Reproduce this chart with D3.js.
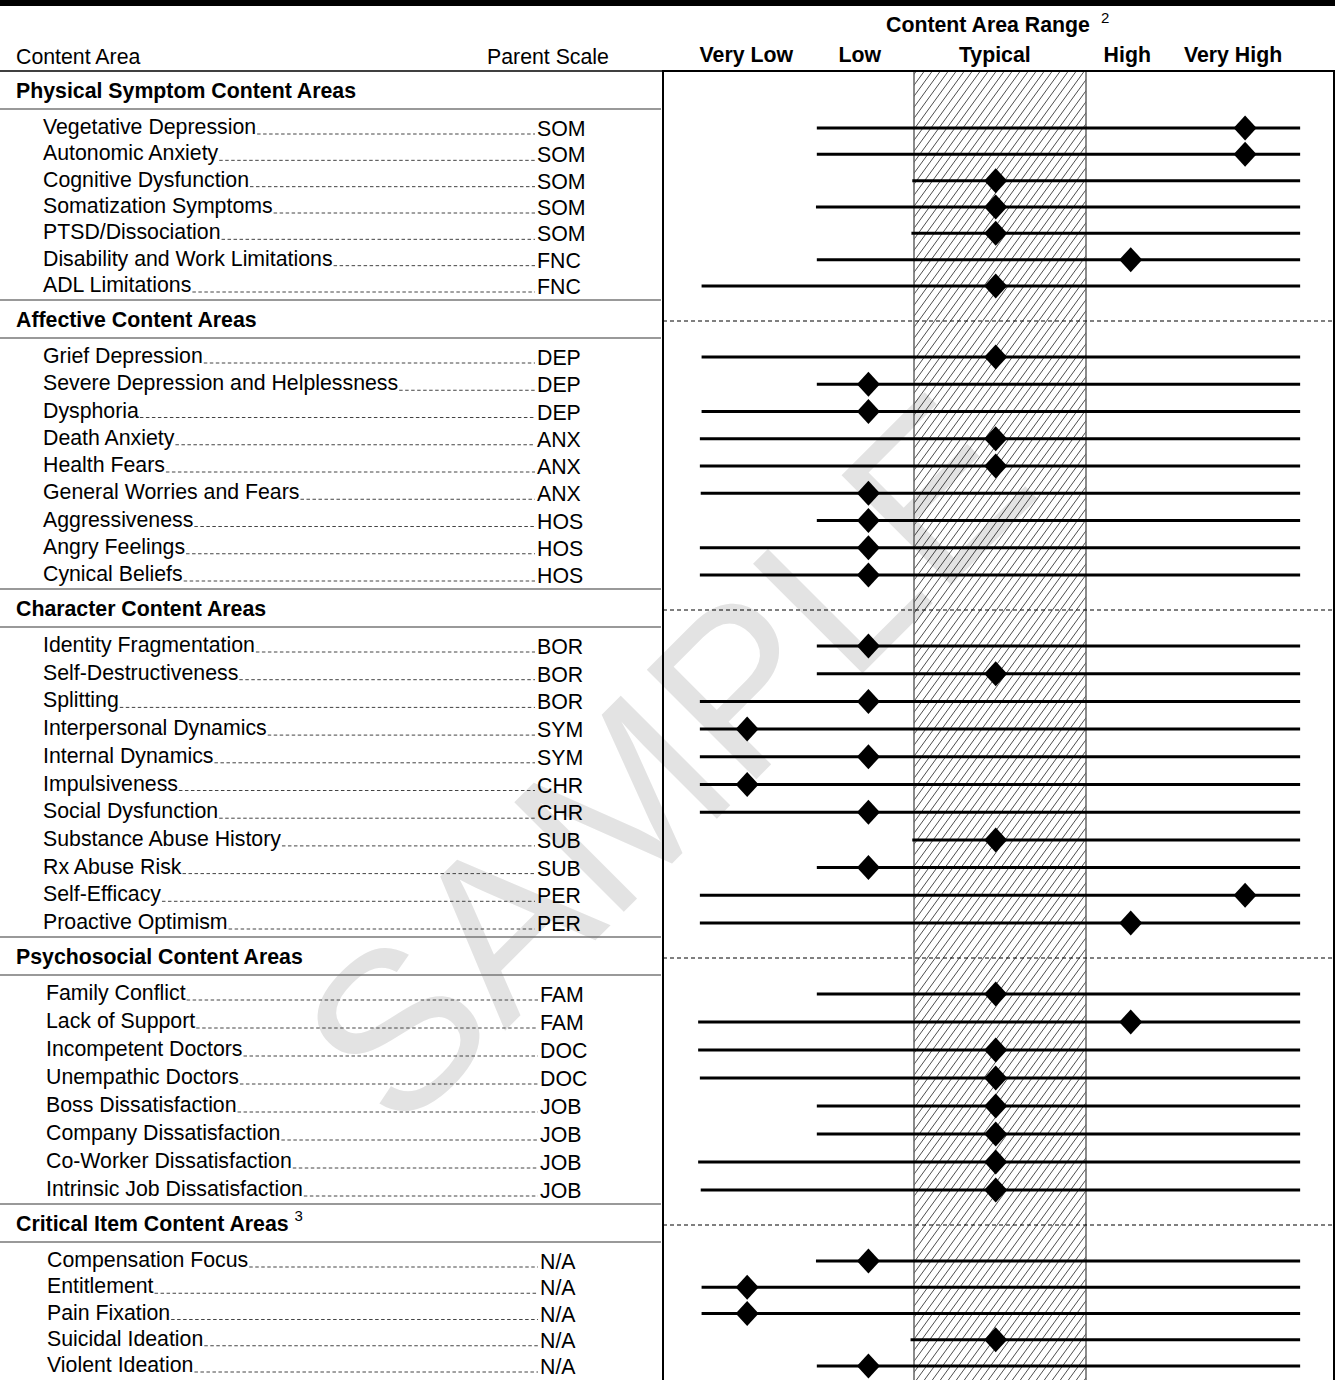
<!DOCTYPE html>
<html>
<head>
<meta charset="utf-8">
<script src="https://cdnjs.cloudflare.com/ajax/libs/d3/7.8.5/d3.min.js"></script>
<style>
  body { margin: 0; background: #fff; }
  svg { display: block; font-family: "Liberation Sans", Arial, Helvetica, sans-serif; }
</style>
</head>
<body>
<div id="chart"></div>
<script>
// ---- data ----
var sections = ["Physical Symptom Content Areas", "Affective Content Areas", "Character Content Areas",
                "Psychosocial Content Areas", "Critical Item Content Areas"];
var sectionSizes = [7, 9, 11, 8, 5];

var areas = [
  "Vegetative Depression", "Autonomic Anxiety", "Cognitive Dysfunction", "Somatization Symptoms",
  "PTSD/Dissociation", "Disability and Work Limitations", "ADL Limitations",
  "Grief Depression", "Severe Depression and Helplessness", "Dysphoria", "Death Anxiety", "Health Fears",
  "General Worries and Fears", "Aggressiveness", "Angry Feelings", "Cynical Beliefs",
  "Identity Fragmentation", "Self-Destructiveness", "Splitting", "Interpersonal Dynamics", "Internal Dynamics",
  "Impulsiveness", "Social Dysfunction", "Substance Abuse History", "Rx Abuse Risk", "Self-Efficacy",
  "Proactive Optimism",
  "Family Conflict", "Lack of Support", "Incompetent Doctors", "Unempathic Doctors", "Boss Dissatisfaction",
  "Company Dissatisfaction", "Co-Worker Dissatisfaction", "Intrinsic Job Dissatisfaction",
  "Compensation Focus", "Entitlement", "Pain Fixation", "Suicidal Ideation", "Violent Ideation"
];
var parents = [
  "SOM", "SOM", "SOM", "SOM", "SOM", "FNC", "FNC",
  "DEP", "DEP", "DEP", "ANX", "ANX", "ANX", "HOS", "HOS", "HOS",
  "BOR", "BOR", "BOR", "SYM", "SYM", "CHR", "CHR", "SUB", "SUB", "PER", "PER",
  "FAM", "FAM", "DOC", "DOC", "JOB", "JOB", "JOB", "JOB",
  "N/A", "N/A", "N/A", "N/A", "N/A"
];
// lowest reachable T-score of each content area (left end of its line)
var floors = [
  28.7, 28.7, 39.8, 28.6, 39.7, 28.7, 15.3,
  15.3, 28.7, 15.3, 15.1, 15.1, 15.2, 28.7, 15.1, 15.1,
  28.7, 28.7, 15.1, 15.1, 15.1, 15.1, 15.1, 39.8, 28.7, 15.1, 15.1,
  28.7, 14.9, 14.9, 15.1, 28.7, 28.7, 14.9, 15.2,
  28.6, 15.3, 15.3, 39.6, 28.7
];
// score (T) of each content area
var scores = [
  78.5, 78.5, 49.5, 49.5, 49.5, 65.2, 49.5,
  49.5, 34.7, 34.7, 49.5, 49.5, 34.7, 34.7, 34.7, 34.7,
  34.7, 49.5, 34.7, 20.6, 34.7, 20.6, 34.7, 49.5, 34.7, 78.5, 65.2,
  49.5, 65.2, 49.5, 49.5, 49.5, 49.5, 49.5, 49.5,
  34.7, 20.6, 20.6, 49.5, 34.7
];
var ceiling = 84.9;
var rangeLabels = ["Very Low", "Low", "Typical", "High", "Very High"];
var rangeLabelT = [20.5, 33.7, 49.4, 64.8, 77.1];
var typicalBand = [40, 60];

// ---- layout ----
var W = 1335, H = 1380;
var FS = 21.3;
var headerY = [91, 320, 609, 957, 1224];
var indentX = [43, 43, 43, 46, 47];
var codeX = [537, 537, 537, 540, 540];
var plotLeft = 663, plotRight = 1334, plotTop = 71;

var svg = d3.select("#chart").append("svg")
    .attr("width", W)
    .attr("height", H);

svg.append("rect").attr("width", W).attr("height", H).attr("fill", "#fff");

var x = d3.scaleLinear().domain(typicalBand).range([914, 1086]);

// rows with their section and y
var rows = [];
var k = 0;
sections.forEach(function(s, si) {
  var first = headerY[si] + 37;
  var last = si < sections.length - 1 ? headerY[si + 1] - 34 : 1366;
  var idx = d3.range(sectionSizes[si]);
  var y = d3.scalePoint().domain(idx).range([first, last]);
  idx.forEach(function(j) {
    rows.push({name: areas[k], parent: parents[k], lo: floors[k], score: scores[k], sec: si, y: y(j)});
    k++;
  });
});

// watermark
svg.append("text")
    .attr("transform", "translate(664,757) rotate(-45)")
    .attr("text-anchor", "middle")
    .attr("dy", "0.36em")
    .attr("font-size", 225)
    .attr("fill", "#e3e3e3")
    .text("SAMPLE");

// hatch pattern for the typical range
var defs = svg.append("defs");
var pat = defs.append("pattern")
    .attr("id", "hatch")
    .attr("patternUnits", "userSpaceOnUse")
    .attr("width", 8).attr("height", 11);
pat.append("path")
    .attr("d", "M0,11 L8,0 M-2,2.75 L2,-2.75 M6,13.75 L10,8.25")
    .attr("stroke", "#000")
    .attr("stroke-width", 0.7);

svg.append("rect")
    .attr("x", x(typicalBand[0]))
    .attr("y", plotTop)
    .attr("width", x(typicalBand[1]) - x(typicalBand[0]))
    .attr("height", H - plotTop + 5)
    .attr("fill", "url(#hatch)")
    .attr("stroke", "#666")
    .attr("stroke-width", 1.5);

// dashed separators in the plot
svg.selectAll(".sep")
    .data(headerY.slice(1))
  .enter().append("line")
    .attr("x1", plotLeft).attr("x2", W)
    .attr("y1", function(d) { return d + 1; })
    .attr("y2", function(d) { return d + 1; })
    .attr("stroke", "#000")
    .attr("stroke-width", 1)
    .attr("stroke-dasharray", "4,3");

// plot frame
svg.append("path")
    .attr("d", "M" + plotLeft + "," + (H + 5) + "V" + plotTop + "H" + plotRight + "V" + (H + 5))
    .attr("fill", "none")
    .attr("stroke", "#000")
    .attr("stroke-width", 2);

// top bar
svg.append("rect").attr("x", 0).attr("y", 0).attr("width", W).attr("height", 6).attr("fill", "#000");

// column headings
var cat = svg.append("text")
    .attr("x", 988).attr("y", 32)
    .attr("text-anchor", "middle")
    .attr("font-size", FS).attr("font-weight", "bold")
    .text("Content Area Range");
svg.append("text")
    .attr("x", 1101).attr("y", 23)
    .attr("font-size", 15)
    .text("2");

svg.selectAll(".rl")
    .data(rangeLabels)
  .enter().append("text")
    .attr("x", function(d, i) { return x(rangeLabelT[i]); })
    .attr("y", 62)
    .attr("text-anchor", "middle")
    .attr("font-size", FS).attr("font-weight", "bold")
    .text(function(d) { return d; });

svg.append("text").attr("x", 16).attr("y", 64).attr("font-size", FS).text("Content Area");
svg.append("text").attr("x", 487).attr("y", 64).attr("font-size", FS).text("Parent Scale");

svg.append("line")
    .attr("x1", 0).attr("x2", plotLeft)
    .attr("y1", plotTop).attr("y2", plotTop)
    .attr("stroke", "#000").attr("stroke-width", 1.5);

// section headings and rules on the left
headerY.forEach(function(hy, si) {
  var t = svg.append("text")
      .attr("x", 16).attr("y", hy + 7)
      .attr("font-size", FS).attr("font-weight", "bold")
      .text(sections[si]);
  if (si == sections.length - 1) {
    var w = t.node().getComputedTextLength();
    svg.append("text").attr("x", 16 + w + 6).attr("y", hy - 3).attr("font-size", 15).text("3");
  }
  svg.append("line")
      .attr("x1", 0).attr("x2", plotLeft - 2)
      .attr("y1", hy + 18).attr("y2", hy + 18)
      .attr("stroke", "#777").attr("stroke-width", 1.5);
  if (si > 0) {
    svg.append("line")
        .attr("x1", 0).attr("x2", plotLeft - 2)
        .attr("y1", hy - 20).attr("y2", hy - 20)
        .attr("stroke", "#777").attr("stroke-width", 1.5);
  }
});

// rows
var row = svg.selectAll(".row")
    .data(rows)
  .enter().append("g")
    .attr("class", "row");

row.append("text")
    .attr("class", "lab")
    .attr("x", function(d) { return indentX[d.sec]; })
    .attr("y", function(d) { return d.y + 6; })
    .attr("font-size", FS)
    .text(function(d) { return d.name; });

row.append("text")
    .attr("x", function(d) { return codeX[d.sec]; })
    .attr("y", function(d) { return d.y + 8; })
    .attr("font-size", FS)
    .text(function(d) { return d.parent; });

row.each(function(d) {
  var w = d3.select(this).select(".lab").node().getComputedTextLength();
  d3.select(this).append("line")
      .attr("x1", indentX[d.sec] + w + 1)
      .attr("x2", codeX[d.sec] - 2)
      .attr("y1", d.y + 6).attr("y2", d.y + 6)
      .attr("stroke", "#444")
      .attr("stroke-width", 1)
      .attr("stroke-dasharray", "3.5,2.5");
});

row.append("line")
    .attr("x1", function(d) { return x(d.lo); })
    .attr("x2", x(ceiling))
    .attr("y1", function(d) { return d.y; })
    .attr("y2", function(d) { return d.y; })
    .attr("stroke", "#000")
    .attr("stroke-width", 3);

row.append("path")
    .attr("transform", function(d) { return "translate(" + x(d.score) + "," + d.y + ")"; })
    .attr("d", "M0,-12.5L11.5,0L0,12.5L-11.5,0Z")
    .attr("fill", "#000");
</script>
</body>
</html>
